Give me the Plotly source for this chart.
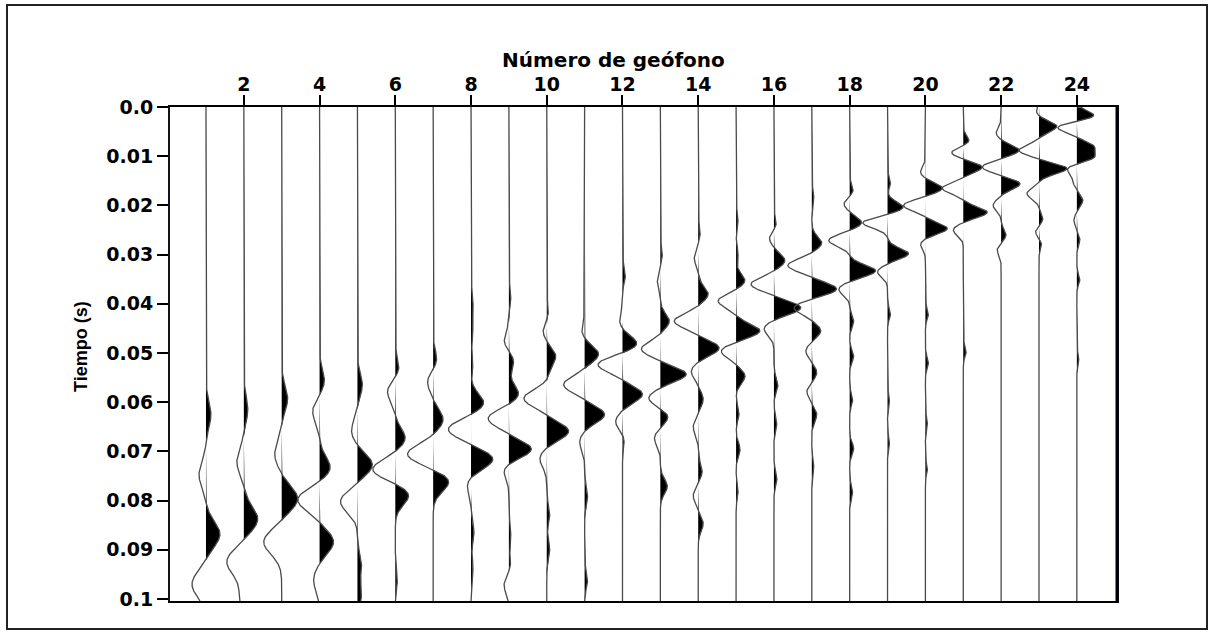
import numpy as np
import plotly.graph_objects as go

# ---------------- data ----------------
geophones = list(range(1, 25))
x_tick_values = list(range(2, 25, 2))
y_tick_values = [0.0, 0.01, 0.02, 0.03, 0.04, 0.05, 0.06, 0.07, 0.08, 0.09, 0.1]
y_tick_labels = ["0.0", "0.01", "0.02", "0.03", "0.04", "0.05",
                 "0.06", "0.07", "0.08", "0.09", "0.1"]

# picked lobe times (s) for each geophone trace
event_times = [
    [0.0625, 0.0747, 0.0868, 0.0970],
    [0.0614, 0.0720, 0.0837, 0.0924, 0.0995],
    [0.0592, 0.0706, 0.0796, 0.0884],
    [0.0557, 0.0618, 0.0734, 0.0798, 0.0884, 0.0961],
    [0.0564, 0.0659, 0.0727, 0.0802, 0.0930, 0.0990],
    [0.0530, 0.0578, 0.0673, 0.0737, 0.0788, 0.0960],
    [0.0516, 0.0557, 0.0635, 0.0706, 0.0761],
    [0.0394, 0.0445, 0.0516, 0.0602, 0.0655, 0.0716, 0.0767, 0.0863, 0.0935],
    [0.0384, 0.0476, 0.0516, 0.0584, 0.0633, 0.0696, 0.0735, 0.0863, 0.0930, 0.0970],
    [0.0420, 0.0455, 0.0506, 0.0553, 0.0592, 0.0659, 0.0714, 0.0827, 0.0898],
    [0.0455, 0.0502, 0.0564, 0.0625, 0.0680, 0.0790, 0.0960],
    [0.0340, 0.0435, 0.0482, 0.0523, 0.0584, 0.0640, 0.0675],
    [0.0298, 0.0353, 0.0435, 0.0492, 0.0543, 0.0592, 0.0629, 0.0673, 0.0771],
    [0.0255, 0.0306, 0.0380, 0.0435, 0.0490, 0.0537, 0.0594, 0.0650, 0.0740, 0.0790, 0.0847],
    [0.0227, 0.0298, 0.0353, 0.0394, 0.0455, 0.0496, 0.0547, 0.0622, 0.0696, 0.0780],
    [0.0240, 0.0265, 0.0312, 0.0360, 0.0408, 0.0450, 0.0564, 0.0640, 0.0755],
    [0.0180, 0.0276, 0.0322, 0.0370, 0.0408, 0.0455, 0.0496, 0.0540, 0.0578, 0.0625, 0.0727],
    [0.0170, 0.0196, 0.0235, 0.0271, 0.0333, 0.0370, 0.0435, 0.0506, 0.0594, 0.0694, 0.0780],
    [0.0153, 0.0204, 0.0235, 0.0298, 0.0335, 0.0420, 0.0594, 0.0680],
    [0.0133, 0.0165, 0.0200, 0.0247, 0.0278, 0.0420, 0.0520, 0.0640, 0.0735],
    [0.0071, 0.0092, 0.0122, 0.0165, 0.0214, 0.0250, 0.0496],
    [0.0053, 0.0088, 0.0122, 0.0156, 0.0200, 0.0260, 0.0290],
    [0.0012, 0.0039, 0.0088, 0.0125, 0.0176, 0.0227, 0.0255, 0.0275],
    [0.0018, 0.0041, 0.0080, 0.0102, 0.0125, 0.0150, 0.0190, 0.0230, 0.0270, 0.0350, 0.0510],
]

# picked lobe amplitudes (relative, + = right / filled black)
event_amps = [
    [5, -7, 14, -14],
    [4, -7, 14, -17, -4],
    [6, -7, 16, -18],
    [5, -7, 11, -22, 14, -6],
    [5, -6, 15, -17, 4, 4],
    [4, -8, 10, -23, 14, 2],
    [4, -6, 10, -26, 16],
    [2, 2, 2, 13, -23, 22, -4, 3, 2],
    [2, -5, 5, 10, -21, 23, -6, 2, 2, -5],
    [2, -4, 9, 2, -23, 22, -7, 3, 3],
    [-3, 14, -21, 20, -5, 3, 3],
    [3, -3, 15, -25, 20, -7, 2],
    [2, -3, 9, -19, 26, -12, 8, -6, 7],
    [2, -4, 10, -24, 21, -7, 5, -5, 4, -5, 5],
    [2, 2, 9, -18, 24, -15, 9, 3, 4, 2],
    [3, -5, 11, -23, 27, -10, 4, 3, 3],
    [2, 10, -24, 25, -18, 9, -6, 5, -5, 5, 2],
    [4, -6, 12, -21, 26, -11, 4, 4, 3, 4, 3],
    [3, 16, -25, 21, -10, 3, 2, 2],
    [-5, 17, -22, 22, -5, 3, 3, 2, 2],
    [7, -13, 19, -21, 24, -10, 3],
    [-5, 18, -19, 19, -8, 5, -4],
    [-3, 18, -20, 28, -12, 4, -4, 3],
    [18, -20, 16, 17, -10, -4, 6, -3, 3, 3, 2],
]

# dominant lobe half-width (s) of each trace
wavelet_sigma = [0.0026, 0.0026, 0.0025, 0.0023, 0.0022, 0.0020, 0.0020, 0.0019,
                 0.0018, 0.0018, 0.0017, 0.0016, 0.0015, 0.0015, 0.0014, 0.0014,
                 0.0013, 0.0012, 0.0011, 0.0011, 0.0011, 0.0011, 0.0011, 0.0010]

# ---------------- figure ----------------
GAIN = 1.0 / 37.9          # relative amplitude -> trace spacing units
T_MAX = 0.1004
t = np.linspace(0.0, T_MAX, 1500)

W, H = 1211, 632
L, R, T, B = 170, 94, 107, 31
PW, PH = W - L - R, H - T - B


def px(xp):
    return (xp - L) / PW


def py(yp):
    return (H - B - yp) / PH


fig = go.Figure()
for n, times, amps, sig in zip(geophones, event_times, event_amps, wavelet_sigma):
    a = np.zeros_like(t)
    for t0, A in zip(times, amps):
        a += A * np.exp(-((t - t0) ** 2) / (2 * sig ** 2))
    a *= GAIN
    pos = np.clip(a, 0, None)
    fig.add_trace(go.Scatter(
        x=np.concatenate([[n], n + pos, [n]]),
        y=np.concatenate([[t[0]], t, [t[-1]]]),
        mode="lines", fill="toself", fillcolor="black",
        line=dict(width=0, color="black"), hoverinfo="skip"))
    fig.add_trace(go.Scatter(
        x=n + a, y=t, mode="lines",
        line=dict(color="#4a4a4a", width=1.3), hoverinfo="skip"))

tickfont = dict(family="DejaVu Sans", size=19, color="black", weight="bold")
fig.update_xaxes(range=[0.05, 25.06], side="top", tickvals=x_tick_values,
                 ticks="outside", ticklen=10, tickwidth=2, tickcolor="black",
                 ticklabelstandoff=-4,
                 showline=True, linewidth=2, linecolor="black", mirror=True,
                 showgrid=False, zeroline=False, tickfont=tickfont)
fig.update_yaxes(range=[T_MAX, 0.0], tickvals=y_tick_values, ticktext=y_tick_labels,
                 ticks="outside", ticklen=11, tickwidth=2, tickcolor="black",
                 showline=True, linewidth=2, linecolor="#111122", mirror=True,
                 showgrid=False, zeroline=False, tickfont=tickfont)

fig.update_layout(
    width=W, height=H, margin=dict(l=L, r=R, t=T, b=B),
    plot_bgcolor="white", paper_bgcolor="white", showlegend=False,
    annotations=[
        dict(text="Número de geófono", x=px(613), y=py(60), xref="paper", yref="paper",
             showarrow=False, xanchor="center", yanchor="middle",
             font=dict(family="DejaVu Sans", size=20, color="black", weight="bold")),
        dict(text="Tiempo (s)", x=px(81), y=py(347), xref="paper", yref="paper",
             showarrow=False, textangle=-90, xanchor="center", yanchor="middle",
             font=dict(family="Liberation Sans", size=18, color="black", weight="bold")),
    ],
    shapes=[
        dict(type="rect", xref="paper", yref="paper",
             x0=px(7), x1=px(1207), y0=py(629), y1=py(5),
             line=dict(color="#222222", width=2), layer="below"),
        dict(type="line", xref="paper", yref="paper",
             x0=1, x1=1, y0=0, y1=1, line=dict(color="black", width=3)),
    ],
)

fig.write_html("out.html", config={"displayModeBar": False},
               post_script="document.body.style.margin='0px';document.body.style.padding='0px';")
